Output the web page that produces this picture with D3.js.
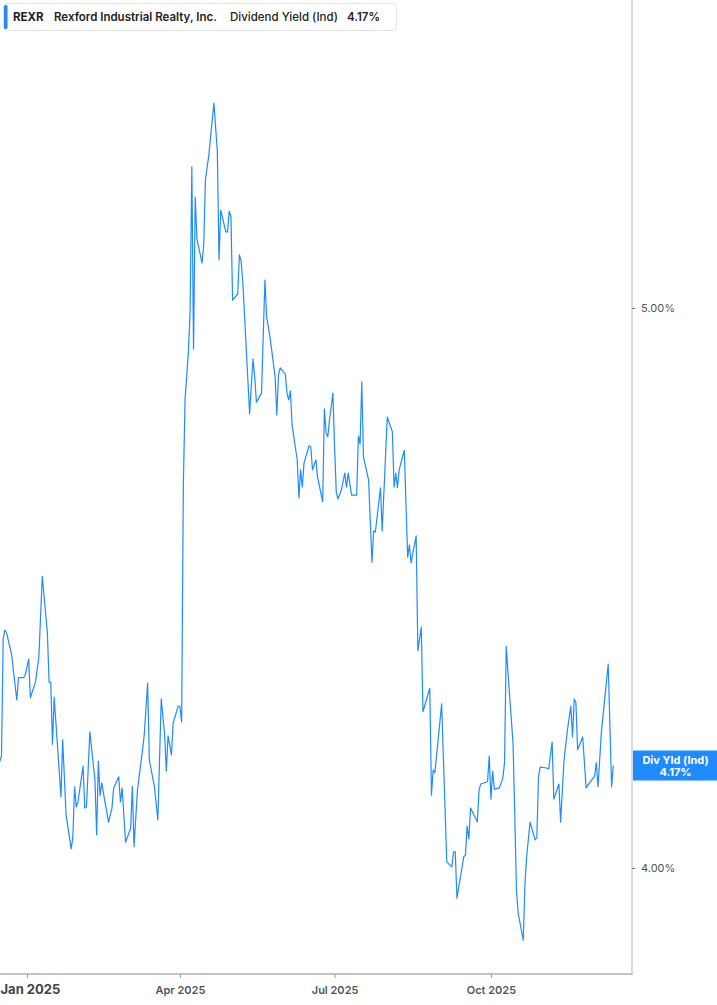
<!DOCTYPE html>
<html>
<head>
<meta charset="utf-8">
<script src="https://cdn.jsdelivr.net/npm/d3@7"></script>
<style>
  body { margin: 0; background: #fff; }
  svg { display: block; font-family: Inter, "Noto Sans", sans-serif; }
</style>
</head>
<body>
<svg></svg>
<script>
const ticker = "REXR";
const companyName = "Rexford Industrial Realty, Inc.";
const metricName = "Dividend Yield (Ind)";
const lastLabel = "4.17%";
const badgeTitle = "Div Yld (Ind)";

const yTicks = [4, 5];
const xTickDates = ["2025-01-01", "2025-04-01", "2025-07-01", "2025-10-01"];
const xTickLabels = ["Jan 2025", "Apr 2025", "Jul 2025", "Oct 2025"];

const dates = [
  "2024-12-16","2024-12-17","2024-12-18","2024-12-19","2024-12-20","2024-12-23","2024-12-26","2024-12-27","2024-12-30","2024-12-31",
  "2025-01-02","2025-01-03","2025-01-06","2025-01-08","2025-01-10","2025-01-13","2025-01-14","2025-01-15","2025-01-16","2025-01-17",
  "2025-01-21","2025-01-22","2025-01-24","2025-01-27","2025-01-28","2025-01-29","2025-01-30","2025-01-31","2025-02-03","2025-02-04",
  "2025-02-05","2025-02-07","2025-02-10","2025-02-11","2025-02-12","2025-02-13","2025-02-14","2025-02-16","2025-02-18","2025-02-20",
  "2025-02-21","2025-02-24","2025-02-25","2025-02-26","2025-02-28","2025-03-03","2025-03-04","2025-03-05","2025-03-07","2025-03-10",
  "2025-03-11","2025-03-13","2025-03-14","2025-03-17","2025-03-19","2025-03-21","2025-03-23","2025-03-24","2025-03-25","2025-03-27",
  "2025-03-28","2025-03-31","2025-04-01","2025-04-02","2025-04-03","2025-04-04","2025-04-06","2025-04-07","2025-04-08","2025-04-09",
  "2025-04-10","2025-04-11","2025-04-13","2025-04-14","2025-04-15","2025-04-16","2025-04-18","2025-04-21","2025-04-23","2025-04-24",
  "2025-04-25","2025-04-28","2025-04-29","2025-04-30","2025-05-01","2025-05-02","2025-05-05","2025-05-06","2025-05-07","2025-05-08",
  "2025-05-12","2025-05-14","2025-05-15","2025-05-16","2025-05-19","2025-05-21","2025-05-22","2025-05-24","2025-05-27","2025-05-28",
  "2025-05-29","2025-05-30","2025-06-02","2025-06-03","2025-06-04","2025-06-05","2025-06-06","2025-06-09","2025-06-10","2025-06-11",
  "2025-06-12","2025-06-13","2025-06-16","2025-06-17","2025-06-18","2025-06-20","2025-06-21","2025-06-24","2025-06-25","2025-06-26",
  "2025-06-27","2025-06-28","2025-06-30","2025-07-01","2025-07-02","2025-07-03","2025-07-05","2025-07-07","2025-07-08","2025-07-09",
  "2025-07-11","2025-07-14","2025-07-15","2025-07-16","2025-07-17","2025-07-18","2025-07-21","2025-07-23","2025-07-24","2025-07-25",
  "2025-07-28","2025-07-29","2025-08-01","2025-08-04","2025-08-05","2025-08-06","2025-08-07","2025-08-08","2025-08-11","2025-08-13",
  "2025-08-14","2025-08-15","2025-08-18","2025-08-19","2025-08-21","2025-08-22","2025-08-26","2025-08-27","2025-08-28","2025-08-29",
  "2025-09-02","2025-09-05","2025-09-08","2025-09-09","2025-09-10","2025-09-11","2025-09-15","2025-09-16","2025-09-17","2025-09-18",
  "2025-09-19","2025-09-23","2025-09-24","2025-09-25","2025-09-29","2025-09-30","2025-10-01","2025-10-02","2025-10-03","2025-10-06",
  "2025-10-08","2025-10-09","2025-10-10","2025-10-11","2025-10-14","2025-10-15","2025-10-16","2025-10-17","2025-10-20","2025-10-21",
  "2025-10-22","2025-10-24","2025-10-27","2025-10-28","2025-10-29","2025-10-30","2025-11-02","2025-11-04","2025-11-06","2025-11-07",
  "2025-11-10","2025-11-11","2025-11-13","2025-11-15","2025-11-17","2025-11-18","2025-11-19","2025-11-20","2025-11-21","2025-11-24",
  "2025-11-26","2025-11-28","2025-12-01","2025-12-02","2025-12-03","2025-12-05","2025-12-09","2025-12-11","2025-12-12"
];

const yields = [
  4.19,4.20,4.41,4.425,4.42,4.38,4.30,4.34,4.34,4.345,
  4.373,4.304,4.332,4.377,4.521,4.42,4.332,4.332,4.221,4.305,
  4.127,4.229,4.095,4.034,4.055,4.145,4.109,4.118,4.182,4.107,
  4.109,4.243,4.157,4.059,4.191,4.129,4.152,4.116,4.082,4.107,
  4.143,4.163,4.118,4.143,4.046,4.071,4.146,4.038,4.139,4.211,
  4.238,4.330,4.193,4.145,4.086,4.302,4.238,4.173,4.236,4.202,
  4.259,4.289,4.288,4.261,4.682,4.836,4.923,4.996,5.252,4.927,
  5.198,5.123,5.095,5.080,5.113,5.229,5.273,5.366,5.280,5.086,
  5.175,5.136,5.136,5.173,5.164,5.014,5.025,5.095,5.084,5.046,
  4.811,4.909,4.877,4.832,4.848,5.050,4.984,4.948,4.877,4.809,
  4.880,4.893,4.882,4.848,4.836,4.852,4.791,4.729,4.661,4.711,
  4.680,4.723,4.754,4.752,4.711,4.729,4.698,4.654,4.820,4.777,
  4.770,4.800,4.848,4.752,4.671,4.659,4.675,4.705,4.680,4.705,
  4.666,4.666,4.771,4.757,4.868,4.734,4.693,4.546,4.602,4.600,
  4.679,4.602,4.805,4.779,4.680,4.705,4.679,4.711,4.746,4.555,
  4.577,4.545,4.593,4.388,4.430,4.279,4.321,4.130,4.175,4.170,
  4.293,4.011,4.002,4.029,4.029,3.946,4.020,4.023,4.075,4.052,
  4.107,4.082,4.139,4.150,4.154,4.200,4.123,4.173,4.141,4.143,
  4.161,4.188,4.396,4.350,4.223,4.098,3.961,3.920,3.871,3.970,
  4.020,4.082,4.050,4.054,4.164,4.180,4.179,4.177,4.225,4.123,
  4.150,4.082,4.193,4.246,4.289,4.234,4.302,4.295,4.211,4.234,
  4.143,4.152,4.164,4.188,4.145,4.243,4.364,4.145,4.183
];

const parseDate = d3.utcParse("%Y-%m-%d");
const data = dates.map((d, i) => ({ date: parseDate(d), value: yields[i] }));

const svgWidth = 717, svgHeight = 1005;
const plotRight = 632, plotBottom = 974;
const lineColor = "#1f8bff";

const svg = d3.select("svg")
    .attr("width", svgWidth)
    .attr("height", svgHeight);

const x = d3.scaleUtc()
    .domain([new Date(Date.UTC(2024, 11, 16, 3)), new Date(Date.UTC(2025, 11, 23))])
    .range([0, plotRight]);

const y = d3.scaleLinear()
    .domain([4, 5])
    .range([868, 308]);

svg.append("clipPath")
    .attr("id", "plot-clip")
    .append("rect")
    .attr("x", 0).attr("y", 0)
    .attr("width", plotRight).attr("height", plotBottom);

// frame: right edge and bottom axis line
svg.append("line")
    .attr("x1", plotRight).attr("x2", plotRight)
    .attr("y1", 0).attr("y2", plotBottom)
    .attr("stroke", "#b8b8b8");

svg.append("line")
    .attr("x1", 0).attr("x2", plotRight + 0.5)
    .attr("y1", plotBottom).attr("y2", plotBottom)
    .attr("stroke", "#b0b0b0")
    .attr("stroke-width", 1.5);

// right value axis
const yAxis = svg.append("g")
    .attr("transform", "translate(" + plotRight + ",0)")
    .call(d3.axisRight(y)
        .tickValues(yTicks)
        .tickSize(3)
        .tickPadding(6)
        .tickFormat(d => d.toFixed(2) + "%"));
yAxis.select(".domain").remove();
yAxis.selectAll("line").attr("stroke", "#777");
yAxis.selectAll("text")
    .attr("fill", "#555")
    .style("font-size", "11px")
    .style("font-family", "Inter, sans-serif");

// bottom time axis
const xAxis = svg.append("g")
    .attr("transform", "translate(0," + plotBottom + ")")
    .call(d3.axisBottom(x)
        .tickValues(xTickDates.map(parseDate))
        .tickSize(4)
        .tickPadding(8)
        .tickFormat((d, i) => xTickLabels[i]));
xAxis.select(".domain").remove();
xAxis.selectAll("line").attr("stroke", "#999");
xAxis.selectAll("text")
    .attr("fill", "#555")
    .style("font-size", "11px")
    .style("font-weight", 600)
    .style("font-family", "Inter, sans-serif");
xAxis.selectAll(".tick").filter((d, i) => i === 0).select("text")
    .attr("text-anchor", "start")
    .attr("x", -x(parseDate(xTickDates[0])))
    .attr("y", 11)
    .attr("fill", "#444")
    .style("font-size", "13px")
    .style("font-weight", 700);

// yield line
const line = d3.line()
    .x(d => x(d.date))
    .y(d => y(d.value));

svg.append("path")
    .datum(data)
    .attr("clip-path", "url(#plot-clip)")
    .attr("fill", "none")
    .attr("stroke", lineColor)
    .attr("stroke-width", 1.2)
    .attr("stroke-linejoin", "round")
    .attr("d", line);

// last value badge on the right axis
const last = data[data.length - 1];
const badge = svg.append("g")
    .attr("transform", "translate(" + (plotRight + 1) + "," + y(last.value) + ")");
badge.append("rect")
    .attr("x", 0).attr("y", -15)
    .attr("width", svgWidth - plotRight - 1).attr("height", 30)
    .attr("fill", lineColor);
badge.append("text")
    .attr("x", (svgWidth - plotRight) / 2).attr("y", -2)
    .attr("text-anchor", "middle")
    .attr("fill", "#fff")
    .style("font-size", "11px")
    .style("font-weight", 700)
    .text(badgeTitle);
badge.append("text")
    .attr("x", (svgWidth - plotRight) / 2).attr("y", 10)
    .attr("text-anchor", "middle")
    .attr("fill", "#fff")
    .style("font-size", "11px")
    .style("font-weight", 700)
    .text(lastLabel);

// legend header
const legend = svg.append("g");
legend.append("rect")
    .attr("x", 3.5).attr("y", 3.5)
    .attr("width", 393).attr("height", 27)
    .attr("rx", 3)
    .attr("fill", "#fff")
    .attr("stroke", "#e4e4e4");
legend.append("rect")
    .attr("x", 4).attr("y", 5)
    .attr("width", 3.5).attr("height", 24)
    .attr("rx", 1.5)
    .attr("fill", lineColor);

const legendItems = [
  { text: ticker, x: 13, weight: 700 },
  { text: companyName, x: 54, weight: 600 },
  { text: metricName, x: 230, weight: 500 },
  { text: lastLabel, x: 347, weight: 600 }
];
legend.selectAll("text.item")
    .data(legendItems)
    .enter().append("text")
    .attr("class", "item")
    .attr("x", d => d.x)
    .attr("y", 21)
    .attr("fill", "#222")
    .style("font-size", "11.5px")
    .style("font-weight", d => d.weight)
    .text(d => d.text);
</script>
</body>
</html>
